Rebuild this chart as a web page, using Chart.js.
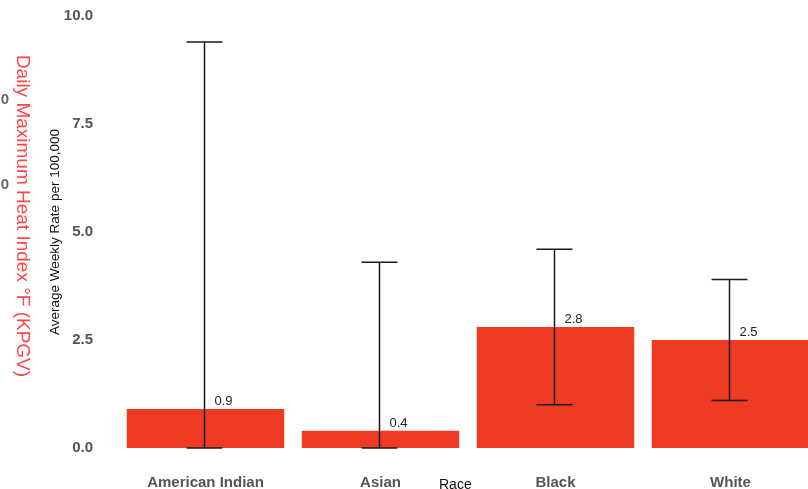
<!DOCTYPE html>
<html>
<head>
<meta charset="utf-8">
<script src="https://cdn.jsdelivr.net/npm/chart.js@4"></script>
<style>
  html, body { margin: 0; padding: 0; background: #fff; overflow: hidden; }
  #wrap { width: 820px; height: 489px; position: relative; }
</style>
</head>
<body>
<div id="wrap"><canvas id="chart"></canvas></div>
<script>
const categories = ['American Indian', 'Asian', 'Black', 'White']
const rates = [0.9, 0.4, 2.8, 2.5]
const ciLow = [0, 0, 1.0, 1.1]
const ciHigh = [9.4, 4.3, 4.6, 3.9]
const yTicks = [0, 2.5, 5, 7.5, 10]

const FONT = "'Liberation Sans', Arial, sans-serif"

// error bars, value labels and the leftover texts around the plot
const extras = {
  id: 'extras',
  afterDatasetsDraw(chart) {
    const { ctx, scales } = chart
    const x = scales.x
    const y = scales.y
    const meta = chart.getDatasetMeta(0)
    ctx.save()
    categories.forEach((c, i) => {
      const cx = x.getPixelForValue(i) - 1
      const yTop = y.getPixelForValue(ciHigh[i])
      const yBot = y.getPixelForValue(ciLow[i])
      ctx.strokeStyle = '#1a1a1a'
      ctx.lineWidth = 1.5
      ctx.beginPath()
      ctx.moveTo(cx, yTop)
      ctx.lineTo(cx, yBot)
      ctx.moveTo(cx - 18, yTop)
      ctx.lineTo(cx + 18, yTop)
      ctx.moveTo(cx - 18, yBot)
      ctx.lineTo(cx + 18, yBot)
      ctx.stroke()

      // value label
      const bar = meta.data[i]
      ctx.fillStyle = '#222'
      ctx.font = '13px ' + FONT
      ctx.textAlign = 'left'
      ctx.textBaseline = 'alphabetic'
      ctx.fillText(rates[i].toFixed(1), cx + 10, bar.y - 4)
    })

    // x title
    ctx.fillStyle = '#111'
    ctx.font = '14px ' + FONT
    ctx.textAlign = 'left'
    ctx.textBaseline = 'top'
    ctx.fillText('Race', 439, 478)

    // clipped ticks of a neighbouring axis
    ctx.fillStyle = '#666'
    ctx.font = 'bold 15px ' + FONT
    ctx.textAlign = 'right'
    ctx.textBaseline = 'middle'
    ctx.fillText('0', 9, 100)
    ctx.fillText('0', 9, 185)

    // red rotated title
    ctx.translate(22, 216)
    ctx.rotate(Math.PI / 2)
    ctx.fillStyle = '#ff4545'
    ctx.font = '19px ' + FONT
    ctx.textAlign = 'center'
    ctx.textBaseline = 'middle'
    ctx.fillText('Daily Maximum Heat Index °F (KPGV)', 0, 0)
    ctx.restore()
  },
}

new Chart(document.getElementById('chart'), {
  type: 'bar',
  data: {
    labels: categories,
    datasets: [
      {
        data: rates,
        backgroundColor: '#ef3b23',
        borderWidth: 0,
        categoryPercentage: 1,
        barPercentage: 0.9,
      },
    ],
  },
  options: {
    responsive: true,
    maintainAspectRatio: false,
    animation: false,
    layout: { padding: { top: 16, left: 0, right: 2, bottom: 0 } },
    plugins: {
      legend: { display: false },
      tooltip: { enabled: false },
    },
    scales: {
      x: {
        grid: { display: false },
        border: { display: false },
        ticks: {
          padding: 18,
          color: '#555',
          font: { family: FONT, size: 15, weight: 'bold' },
        },
        afterFit: (s) => {
          s.height = 41
          s.paddingLeft = 0
          s.paddingRight = 0
        },
      },
      y: {
        min: 0,
        max: 10,
        grid: { display: false },
        border: { display: false },
        afterBuildTicks: (s) => {
          s.ticks = yTicks.map((v) => ({ value: v }))
        },
        ticks: {
          padding: 17,
          color: '#555',
          font: { family: FONT, size: 15, weight: 'bold' },
          callback: (v) => Number(v).toFixed(1),
        },
        title: {
          display: true,
          text: 'Average Weekly Rate per 100,000',
          color: '#111',
          font: { family: FONT, size: 13.5 },
          padding: { top: 47, bottom: 0 },
        },
        afterFit: (s) => {
          s.width = 118
          s.paddingTop = 0
          s.paddingBottom = 0
        },
      },
    },
  },
  plugins: [extras],
})
</script>
</body>
</html>
